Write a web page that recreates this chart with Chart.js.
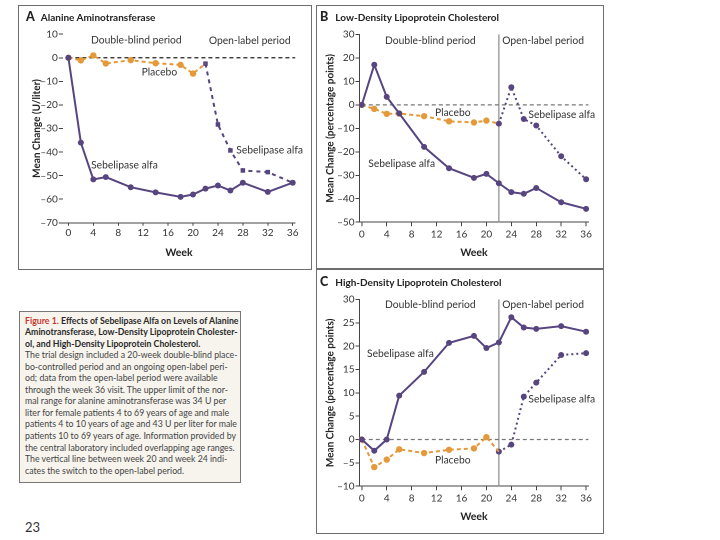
<!DOCTYPE html>
<html><head><meta charset="utf-8">
<script src="https://cdn.jsdelivr.net/npm/chart.js@4.4.1/dist/chart.umd.min.js"></script>
<style>
body{margin:0;width:720px;height:540px;background:#fff;position:relative;overflow:hidden;font-family:Lato,"Open Sans",sans-serif;}
.panel{position:absolute;border:1.5px solid #6e6e6e;box-sizing:border-box;background:#fff;}
.panel canvas{position:absolute;left:0;top:0;}
.ttl{position:absolute;font-weight:bold;font-size:10px;color:#222;white-space:nowrap;line-height:14px;}
.ttl b{font-size:12.5px;display:inline-block;}
#cap{position:absolute;left:19px;top:311px;width:222px;height:172px;box-sizing:border-box;border:1.5px solid #777;background:#f7f4ee;padding:2.5px 0 0 5px;font-size:8.75px;line-height:11.55px;color:#444;white-space:nowrap;}
#cap .hd{font-weight:bold;color:#2a2a2a;}
#cap .fig{color:#c8372d;font-weight:bold;}
#pg{position:absolute;left:25px;top:519px;font-size:13px;color:#333;line-height:16px;}
</style></head>
<body>
<div class="panel" style="left:18px;top:5px;width:294px;height:265px;"><canvas id="cA" width="291" height="262"></canvas></div>
<div class="panel" style="left:316px;top:5px;width:288px;height:264px;"><canvas id="cB" width="285" height="261"></canvas></div>
<div class="panel" style="left:316px;top:269px;width:288px;height:265px;"><canvas id="cC" width="285" height="262"></canvas></div>
<div class="ttl" style="left:26px;top:10px;"><b style="margin-right:6px">A</b>Alanine Aminotransferase</div>
<div class="ttl" style="left:320px;top:10px;"><b style="margin-right:7px">B</b>Low-Density Lipoprotein Cholesterol</div>
<div class="ttl" style="left:320px;top:275px;"><b style="margin-right:7px">C</b>High-Density Lipoprotein Cholesterol</div>
<div id="cap"><span class="fig">Figure 1.</span> <span class="hd">Effects of Sebelipase Alfa on Levels of Alanine<br>Aminotransferase, Low-Density Lipoprotein Cholester-<br>ol, and High-Density Lipoprotein Cholesterol.</span><br>The trial design included a 20-week double-blind place-<br>bo-controlled period and an ongoing open-label peri-<br>od; data from the open-label period were available<br>through the week 36 visit. The upper limit of the nor-<br>mal range for alanine aminotransferase was 34 U per<br>liter for female patients 4 to 69 years of age and male<br>patients 4 to 10 years of age and 43 U per liter for male<br>patients 10 to 69 years of age. Information provided by<br>the central laboratory included overlapping age ranges.<br>The vertical line between week 20 and week 24 indi-<br>cates the switch to the open-label period.</div>
<div id="pg">23</div>
<script>
// ---- data ----
const xTickValues = [0,4,8,12,16,20,24,28,32,36];
const sebWeeks = [0,2,4,6,10,14,18,20,22,24,26,28,32,36];
const placeboWeeks = [0,2,4,6,10,14,18,20,22];
const openLabelWeeks = [22,24,26,28,32,36];
const switchWeek = 22;

const altYTicks = [10,0,-10,-20,-30,-40,-50,-60,-70];
const altSebelipase = [0,-36,-51.6,-50.6,-54.9,-57.1,-59.0,-58.0,-55.5,-54.2,-56.3,-53.0,-56.9,-53.0];
const altPlacebo = [0,-1.1,1.0,-2.4,-1.0,-2.3,-3.0,-6.7,-2.5];
const altOpenLabel = [-2.5,-28.3,-39.3,-47.8,-48.5,-53.0];

const ldlYTicks = [30,20,10,0,-10,-20,-30,-40,-50];
const ldlSebelipase = [0,17.1,3.4,-3.6,-17.9,-27.0,-31.1,-29.4,-33.4,-37.2,-37.9,-35.4,-41.5,-44.3];
const ldlPlacebo = [0,-1.7,-3.8,-3.7,-4.8,-7.0,-7.5,-6.7,-8.0];
const ldlOpenLabel = [-8.0,7.5,-6.0,-8.8,-21.9,-31.7];

const hdlYTicks = [30,25,20,15,10,5,0,-5,-10];
const hdlSebelipase = [0,-2.4,0,9.4,14.5,20.7,22.2,19.6,20.8,26.2,24.0,23.7,24.3,23.1];
const hdlPlacebo = [0,-5.9,-4.3,-2.1,-2.9,-2.2,-1.9,0.5,-2.6];
const hdlOpenLabel = [-2.6,-1.1,9.2,12.2,18.1,18.5];

// ---- styles ----
const PURPLE = '#574580';
const ORANGE = '#e49a3a';
const FONT = 'Lato, "Open Sans", sans-serif';

const textLabels = {
  id: 'textLabels',
  afterDatasetsDraw(chart, args, opts) {
    const {ctx, scales: {x, y}} = chart;
    ctx.save();
    ctx.fillStyle = opts.color;
    ctx.textAlign = 'center';
    ctx.textBaseline = 'middle';
    opts.items.forEach(it => {
      ctx.font = it.font || opts.font;
      ctx.fillText(it.text, x.getPixelForValue(it.x), y.getPixelForValue(it.y));
    });
    ctx.restore();
  }
};

const zip = (xs, ys) => xs.map((v, i) => ({x: v, y: ys[i]}));
const fmt = v => v < 0 ? '\u2013' + Math.abs(v) : String(v);

function makeChart(id, c) {
  const yMin = Math.min(...c.yTicks), yMax = Math.max(...c.yTicks);
  const datasets = [
    {data: zip(sebWeeks, c.seb), borderColor: PURPLE, backgroundColor: PURPLE, borderWidth: 2,
     pointRadius: 3, pointStyle: 'circle', pointBorderWidth: 0, clip: false},
    {data: zip(placeboWeeks, c.pla), borderColor: ORANGE, backgroundColor: ORANGE, borderWidth: 2,
     borderDash: [4, 3], pointRadius: placeboWeeks.map((w, i) => i === placeboWeeks.length - 1 ? 0 : 3.2),
     pointBorderWidth: 0, clip: false},
    {data: zip(openLabelWeeks, c.open), borderColor: PURPLE, backgroundColor: PURPLE, borderWidth: 2,
     borderDash: c.openDash, pointRadius: c.openRadius, pointStyle: c.openStyle, pointBorderWidth: 0, clip: false},
    {data: [{x: 0, y: 0}, {x: c.xMax, y: 0}], borderColor: c.zeroColor, borderWidth: 1.2,
     borderDash: [4, 3], pointRadius: 0, clip: false}
  ];
  if (c.vline) {
    datasets.push({data: [{x: switchWeek, y: yMin}, {x: switchWeek, y: yMax}], borderColor: '#8a8a8a',
      borderWidth: 1.2, pointRadius: 0, clip: false});
  }
  return new Chart(document.getElementById(id), {
    type: 'line',
    data: {datasets},
    plugins: [textLabels],
    options: {
      responsive: false, animation: false, devicePixelRatio: 2,
      layout: {padding: {top: c.padTop, right: c.padRight, left: 0, bottom: 0}},
      plugins: {legend: {display: false}, tooltip: {enabled: false},
        textLabels: {font: '10.3px ' + FONT, color: '#333', items: c.labels}},
      scales: {
        x: {type: 'linear', min: c.xMin, max: c.xMax,
          afterBuildTicks: s => { s.ticks = xTickValues.map(v => ({value: v})); },
          afterFit: s => { s.height = c.xH; },
          grid: {display: true, drawOnChartArea: false, drawTicks: true, tickLength: c.xTickLen, color: '#444'},
          border: {display: true, color: '#444', width: 1},
          ticks: {font: {family: FONT, size: 10}, color: '#333', padding: c.xTickPad, maxRotation: 0, autoSkip: false},
          title: {display: true, text: 'Week', font: {family: FONT, size: 10.5, weight: 'bold'}, color: '#222',
            padding: {top: 0, bottom: c.xTitlePad}}
        },
        y: {type: 'linear', min: yMin, max: yMax,
          afterBuildTicks: s => { s.ticks = c.yTicks.map(v => ({value: v})); },
          afterFit: s => { s.width = c.yW; },
          grid: {display: true, drawOnChartArea: false, drawTicks: true, tickLength: 4, color: '#444'},
          border: {display: c.yBorder, color: '#444', width: 1},
          ticks: {font: {family: FONT, size: 10}, color: '#333', padding: 1, callback: v => fmt(v)},
          title: {display: true, text: c.yTitle, font: {family: FONT, size: 10, weight: 'bold'}, color: '#222',
            padding: {top: c.yTitlePad, bottom: 0}}
        }
      }
    }
  });
}

makeChart('cA', {
  seb: altSebelipase, pla: altPlacebo, open: altOpenLabel, yTicks: altYTicks,
  xMin: -0.9, xMax: 36.4, padTop: 28.2, padRight: 14.8, xH: 45.2, yW: 43.8,
  xTickLen: 3, xTickPad: 1, xTitlePad: 8.9, yTitlePad: 11.7, yBorder: false,
  zeroColor: '#222', vline: false, openDash: [4, 4], openRadius: 3.2, openStyle: 'rect',
  yTitle: 'Mean Change (U/liter)',
  labels: [
    {text: 'Double-blind period', x: 10.9, y: 7.5},
    {text: 'Open-label period', x: 29.1, y: 7.3},
    {text: 'Placebo', x: 14.6, y: -6.2},
    {text: 'Sebelipase alfa', x: 9.0, y: -45.6},
    {text: 'Sebelipase alfa', x: 32.3, y: -39.2}
  ]
});

makeChart('cB', {
  seb: ldlSebelipase, pla: ldlPlacebo, open: ldlOpenLabel, yTicks: ldlYTicks,
  xMin: -0.37, xMax: 36.37, padTop: 28.5, padRight: 13.6, xH: 44.8, yW: 42.5,
  xTickLen: 4, xTickPad: 2.3, xTitlePad: 7.9, yTitlePad: 7.2, yBorder: true,
  zeroColor: '#777', vline: true, openDash: [2, 3], openRadius: 3, openStyle: 'circle',
  yTitle: 'Mean Change (percentage points)',
  labels: [
    {text: 'Double-blind period', x: 11.0, y: 27.4},
    {text: 'Open-label period', x: 29.1, y: 27.4},
    {text: 'Placebo', x: 14.6, y: -3.4},
    {text: 'Sebelipase alfa', x: 32.1, y: -4.1},
    {text: 'Sebelipase alfa', x: 6.4, y: -25.0}
  ]
});

makeChart('cC', {
  seb: hdlSebelipase, pla: hdlPlacebo, open: hdlOpenLabel, yTicks: hdlYTicks,
  xMin: -0.37, xMax: 36.37, padTop: 29.5, padRight: 13.6, xH: 45.8, yW: 42.5,
  xTickLen: 4, xTickPad: 2.3, xTitlePad: 8.9, yTitlePad: 7.2, yBorder: true,
  zeroColor: '#777', vline: true, openDash: [2, 3], openRadius: 3, openStyle: 'circle',
  yTitle: 'Mean Change (percentage points)',
  labels: [
    {text: 'Double-blind period', x: 11.0, y: 28.9},
    {text: 'Open-label period', x: 29.1, y: 28.9},
    {text: 'Sebelipase alfa', x: 6.2, y: 18.4},
    {text: 'Sebelipase alfa', x: 32.1, y: 8.6},
    {text: 'Placebo', x: 14.6, y: -4.4}
  ]
});
</script>
</body></html>
